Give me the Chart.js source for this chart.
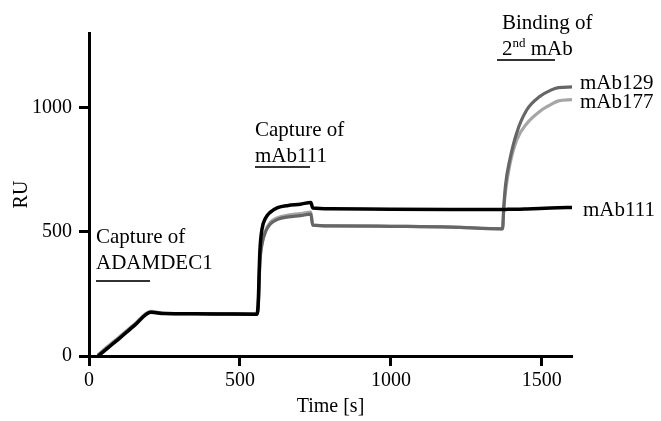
<!DOCTYPE html>
<html>
<head>
<meta charset="utf-8">
<script src="https://cdn.jsdelivr.net/npm/chart.js@4/dist/chart.umd.min.js"></script>
<style>
  html, body { margin: 0; padding: 0; background: #ffffff; }
  #wrap { width: 661px; height: 421px; }
</style>
</head>
<body>
<div id="wrap"><canvas id="sensorgram" width="661" height="421"></canvas></div>
<script>
// Sensorgram: capture of ADAMDEC1, capture of mAb111, then binding of a 2nd mAb
const timeS = [30, 60, 100, 150, 205, 250, 350, 450, 555, 560, 566, 573, 585, 600, 625, 660, 700, 735, 741,
               800, 1000, 1200, 1370, 1374, 1380, 1394, 1417, 1450, 1493, 1530, 1555, 1600];

const ruMAb111 = [0, 30, 70, 122, 176, 171, 170, 169, 168, 200, 420, 510, 555, 578, 597, 606, 611, 618, 596,
                  593, 591, 590, 590, 590, 590, 591, 591, 592, 594, 596, 597, 598];

const ruMAb129 = [2, 32, 72, 124, 177, 171, 170, 169, 168, 190, 380, 450, 500, 530, 550, 560, 565, 571, 527,
                  524, 522, 519, 512, 600, 690, 790, 899, 990, 1044, 1070, 1080, 1083];

const ruMAb177 = [5, 37, 77, 128, 180, 172, 171, 170, 169, 185, 370, 450, 505, 537, 557, 567, 573, 579, 527,
                  524, 522, 519, 512, 590, 665, 770, 870, 935, 984, 1012, 1027, 1032];

const seriesNames = ['mAb111', 'mAb129', 'mAb177'];
const xTicks = [0, 500, 1000, 1500];
const yTicks = [0, 500, 1000];

const serif = '"Liberation Serif", "Times New Roman", serif';

function toPoints(values) {
  return timeS.map((t, i) => ({ x: t, y: values[i] }));
}

// Phase captions, underlines and the series names at the right end of the curves
const captionPlugin = {
  id: 'captions',
  afterDraw(chart) {
    const ctx = chart.ctx;
    ctx.save();
    ctx.fillStyle = '#000';
    ctx.textAlign = 'left';
    ctx.textBaseline = 'alphabetic';
    ctx.font = '21px ' + serif;

    ctx.fillText('Capture of', 96, 243);
    ctx.fillText('ADAMDEC1', 96, 269);

    ctx.fillText('Capture of', 255, 136);
    ctx.fillText('mAb111', 255, 162);

    ctx.fillText('Binding of', 502, 29);
    ctx.fillText('2', 502, 55);
    let w2 = ctx.measureText('2').width;
    ctx.font = '13px ' + serif;
    ctx.fillText('nd', 502 + w2, 47);
    let wnd = ctx.measureText('nd').width;
    ctx.font = '21px ' + serif;
    ctx.fillText(' mAb', 502 + w2 + wnd, 55);

    ctx.fillText(seriesNames[1], 580, 89);
    ctx.fillText(seriesNames[2], 580, 108);
    ctx.fillText(seriesNames[0], 583, 216);

    ctx.strokeStyle = '#333';
    ctx.lineWidth = 2;
    ctx.beginPath();
    ctx.moveTo(96, 281); ctx.lineTo(150, 281);
    ctx.moveTo(255, 167); ctx.lineTo(310, 167);
    ctx.moveTo(497, 60); ctx.lineTo(555, 60);
    ctx.stroke();
    ctx.restore();
  }
};

new Chart(document.getElementById('sensorgram'), {
  type: 'line',
  data: {
    datasets: [
      { label: seriesNames[0], data: toPoints(ruMAb111), borderColor: '#000000', borderWidth: 3.5 },
      { label: seriesNames[1], data: toPoints(ruMAb129), borderColor: '#666666' },
      { label: seriesNames[2], data: toPoints(ruMAb177), borderColor: '#a6a6a6' }
    ]
  },
  options: {
    responsive: false,
    animation: false,
    events: [],
    layout: { padding: { left: 0, top: 33, right: 89, bottom: 0 } },
    elements: {
      line: { borderWidth: 3.2, tension: 0, cubicInterpolationMode: 'monotone', fill: false },
      point: { radius: 0 }
    },
    plugins: {
      legend: { display: false },
      tooltip: { enabled: false }
    },
    scales: {
      x: {
        type: 'linear',
        min: 0,
        max: 1600,
        afterFit(scale) { scale.height = 65; },
        afterBuildTicks(scale) { scale.ticks = xTicks.map(v => ({ value: v })); },
        grid: { drawOnChartArea: false, drawTicks: true, tickLength: 10, tickWidth: 3, tickColor: '#000' },
        border: { display: true, color: '#000', width: 3 },
        ticks: { color: '#000', padding: 3, maxRotation: 0, font: { family: serif, size: 20 },
                 callback: v => String(v) },
        title: { display: true, text: 'Time [s]', color: '#000', padding: { top: 0, bottom: 2 },
                 font: { family: serif, size: 20 } }
      },
      y: {
        type: 'linear',
        min: 0,
        max: 1300,
        afterFit(scale) { scale.width = 89; },
        afterBuildTicks(scale) { scale.ticks = yTicks.map(v => ({ value: v })); },
        grid: { drawOnChartArea: false, drawTicks: true, tickLength: 10, tickWidth: 3, tickColor: '#000' },
        border: { display: true, color: '#000', width: 3 },
        ticks: { color: '#000', padding: 7, font: { family: serif, size: 20 },
                 callback: v => String(v) },
        title: { display: true, text: 'RU', color: '#000', padding: { top: 10, bottom: 0 },
                 font: { family: serif, size: 20 } }
      }
    }
  },
  plugins: [captionPlugin]
});
</script>
</body>
</html>
